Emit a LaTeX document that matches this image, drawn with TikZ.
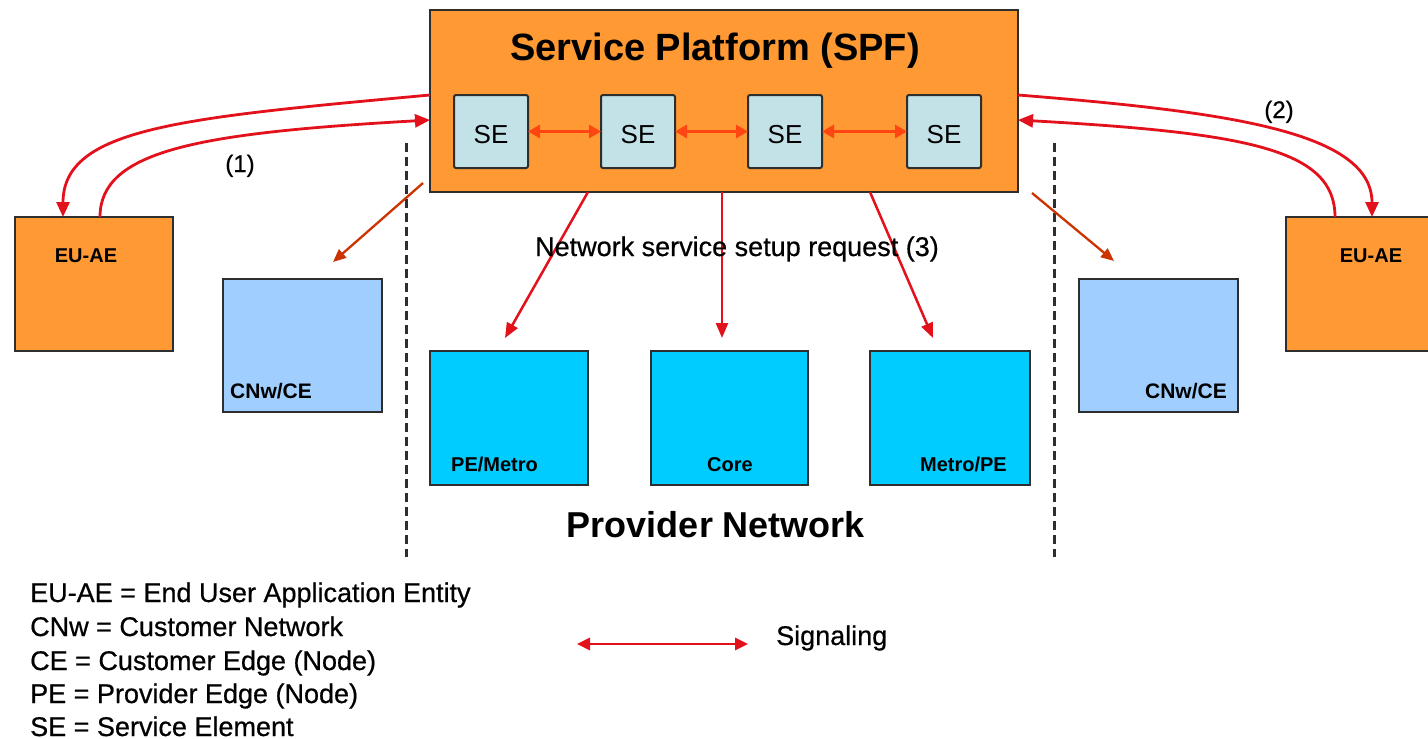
\documentclass[tikz,border=0pt]{standalone}
\usepackage{fontspec}
\setmainfont{Liberation Sans}
\newfontfamily\heavysans{Liberation Sans}[FakeBold=0.6]
\usetikzlibrary{arrows.meta,calc}

\definecolor{spforange}{HTML}{FF9933}
\definecolor{seblue}{HTML}{C2E2E8}
\definecolor{ceblue}{HTML}{A0CFFF}
\definecolor{pncyan}{HTML}{00CCFF}
\definecolor{sigred}{HTML}{E3111B}
\definecolor{seorange}{HTML}{FF4612}
\definecolor{diagred}{HTML}{CC3300}
\definecolor{framegray}{HTML}{2E2E2E}

\newcommand\fsz[1]{\fontsize{#1}{#1}\selectfont}

\begin{document}
\begin{tikzpicture}[x=1pt,y=-1pt,
  box/.style={draw=framegray,line width=2,anchor=north west,inner sep=0pt,outer sep=0pt},
  spfbox/.style={box,fill=spforange},
  sebox/.style={box,fill=seblue,rounded corners=2,minimum width=74,minimum height=73},
  eubox/.style={box,fill=spforange,minimum width=158,minimum height=134},
  cebox/.style={box,fill=ceblue,minimum width=159,minimum height=133},
  pnbox/.style={box,fill=pncyan,minimum width=158,minimum height=134},
  lbl/.style={inner sep=0pt,font=\bfseries\fsz{20}},
  txt/.style={inner sep=0pt,font=\heavysans\fsz{27}},
  sigline/.style={draw=sigred,line width=2.8,-{Triangle[length=15,width=13]}},
  selink/.style={draw=seorange,line width=3.5,{Triangle[length=12,width=13]}-{Triangle[length=12,width=13]}},
  reqline/.style={draw=sigred,line width=2.5,-{Triangle[length=15,width=12]}},
  diagline/.style={draw=diagred,line width=2.3,-{Triangle[length=13,width=11]}},
  divider/.style={draw=framegray,line width=3,dash pattern=on 9pt off 5pt}
]
\useasboundingbox (0,0) rectangle (1428,739);
\clip (0,0) rectangle (1428,739);
\fill[white] (0,0) rectangle (1428,739);

% service platform with its service elements
\node[spfbox,minimum width=588,minimum height=182] (spf) at (430,10) {};
\node[inner sep=0pt,anchor=base,font=\bfseries\fsz{38}] (spftitle) at (715,60) {Service Platform (SPF)};
\node[sebox] (se1) at (454,95) {};
\node[sebox] (se2) at (601,95) {};
\node[sebox] (se3) at (748,95) {};
\node[sebox] (se4) at (907,95) {};
\foreach \s in {se1,se2,se3,se4}
  \node[inner sep=0pt,anchor=base,font=\fsz{26}] (\s-t) at ($(\s.south)+(0,-25)$) {SE};
\draw[selink] (se1) -- (se2);
\draw[selink] (se2) -- (se3);
\draw[selink] (se3) -- (se4);

% end user application entities
\node[eubox] (euL) at (15,217) {};
\node[lbl,anchor=base] (euL-t) at (86,262) {EU-AE};
\node[eubox] (euR) at (1286,217) {};
\node[lbl,anchor=base] (euR-t) at (1371,262) {EU-AE};

% customer networks / customer edges
\node[cebox] (ceL) at (223,279) {};
\node[lbl,anchor=base west,font=\bfseries\fsz{21}] (ceL-t) at (230,398) {CNw/CE};
\node[cebox] (ceR) at (1079,279) {};
\node[lbl,anchor=base east,font=\bfseries\fsz{21}] (ceR-t) at (1227,398) {CNw/CE};

% provider network
\node[pnbox] (pe) at (430,351) {};
\node[lbl,anchor=base west] (pe-t) at (451,471) {PE/Metro};
\node[pnbox,minimum width=157] (core) at (651,351) {};
\node[lbl,anchor=base] (core-t) at (730,471) {Core};
\node[pnbox,minimum width=160] (mpe) at (870,351) {};
\node[lbl,anchor=base east] (mpe-t) at (1007,471) {Metro/PE};
\node[inner sep=0pt,anchor=base,font=\bfseries\fsz{36}] (pn) at (716,537) {Provider Network};

% domain boundaries
\draw[divider] (406,143) -- (406,557);
\draw[divider] (1054,143) -- (1054,557);

% signaling (1) with the left end user
\draw[sigline] ($(spf.north west)+(0,85)$) .. controls (180,118) and (63,128) .. ($(euL.north west)+(48,0)$);
\draw[sigline] ($(euL.north west)+(85,0)$) .. controls (100,150) and (200,133) .. ($(spf.north west)+(0,110)$);
\node[inner sep=0pt,anchor=base,font=\heavysans\fsz{24}] (lab1) at (240,172) {(1)};

% signaling (2) with the right end user
\draw[sigline] ($(spf.north east)+(0,85)$) .. controls (1230,112) and (1372,132) .. ($(euR.north west)+(86,0)$);
\draw[sigline] ($(euR.north west)+(49,0)$) .. controls (1335,150) and (1250,133) .. ($(spf.north east)+(0,110)$);
\node[inner sep=0pt,anchor=base,font=\heavysans\fsz{24}] (lab2) at (1279,118) {(2)};

% network service setup requests (3)
\draw[reqline] ($(spf.south west)+(158,0)$) -- ($(pe.north)+(-4,-13)$);
\draw[reqline] ($(spf.south west)+(292,0)$) -- ($(core.north)+(-7.5,-13)$);
\draw[reqline] ($(spf.south west)+(440,0)$) -- ($(mpe.north)+(-17,-13)$);
\node[txt,anchor=base] (req) at (737,256) {Network service setup request (3)};

% platform towards customer edges
\draw[diagline] ($(spf.south west)+(-7,-9)$) -- ($(ceL.north west)+(110,-17)$);
\draw[diagline] ($(spf.south east)+(14,1)$) -- ($(ceR.north west)+(35,-18)$);

% legend
\node[txt,anchor=base west] (leg1) at (30,602) {EU-AE = End User Application Entity};
\node[txt,anchor=base west] (leg2) at (30,636) {CNw = Customer Network};
\node[txt,anchor=base west] (leg3) at (30,670) {CE = Customer Edge (Node)};
\node[txt,anchor=base west] (leg4) at (30,703) {PE = Provider Edge (Node)};
\node[txt,anchor=base west] (leg5) at (30,736) {SE = Service Element};
\node[txt,anchor=base west] (sigtxt) at (776,645) {Signaling};
\coordinate (sigA) at (577,644);
\coordinate (sigB) at (748,644);
\draw[draw=sigred,line width=2.8,{Triangle[length=13,width=12]}-{Triangle[length=13,width=12]}] (sigA) -- (sigB);
\end{tikzpicture}
\end{document}
